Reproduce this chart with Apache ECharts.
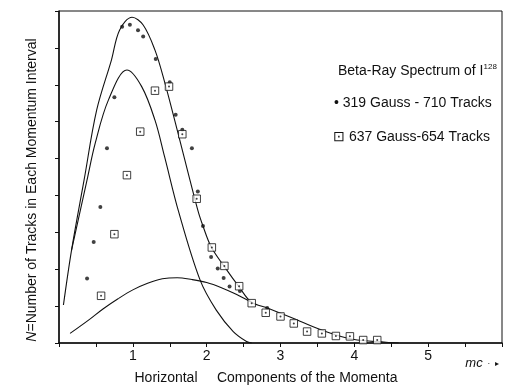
<!DOCTYPE html>
<html>
<head>
<meta charset="utf-8">
<script src="https://cdn.jsdelivr.net/npm/echarts@6/dist/echarts.min.js"></script>
<style>html,body{margin:0;padding:0;background:#fff}#c{width:505px;height:385px}</style>
</head>
<body>
<div id="c"></div>
<script>
// Data (x in mc units, y in arbitrary tick units)
var dots319 = [[0.38,1.75],[0.47,2.74],[0.56,3.69],[0.65,5.28],[0.75,6.66],[0.855,8.57],[0.96,8.63],[1.07,8.48],[1.14,8.31],[1.31,7.70],[1.50,7.07],[1.58,6.19],[1.67,5.78],[1.80,5.28],[1.88,4.11],[1.95,3.17],[2.06,2.33],[2.15,2.02],[2.23,1.76],[2.31,1.53],[2.45,1.41],[2.82,0.95]];
var squares637 = [[0.57,1.28],[0.75,2.95],[0.92,4.55],[1.10,5.73],[1.30,6.84],[1.49,6.95],[1.67,5.66],[1.865,3.91],[2.07,2.59],[2.24,2.09],[2.44,1.54],[2.61,1.08],[2.80,0.82],[3.00,0.72],[3.18,0.53],[3.36,0.31],[3.56,0.26],[3.75,0.19],[3.94,0.18],[4.12,0.08],[4.31,0.08]];
var totalCurve = [[0.06,1.03],[0.17,2.52],[0.34,4.42],[0.51,6.31],[0.71,7.67],[0.82,8.48],[0.99,8.83],[1.14,8.62],[1.30,7.94],[1.43,7.08],[1.59,5.86],[1.88,3.60],[1.95,3.17],[2.06,2.61],[2.24,2.07],[2.45,1.49],[2.60,1.12],[2.83,0.94],[3.17,0.67],[3.53,0.37],[3.98,0.10],[4.43,0.02],[4.6,0]];
var innerCurve = [[0.17,2.52],[0.38,4.42],[0.49,5.41],[0.67,6.59],[0.92,7.40],[1.12,6.95],[1.30,6.04],[1.43,5.05],[1.62,3.56],[1.91,1.71],[2.13,0.89],[2.36,0.31],[2.54,0.04],[2.61,0]];
var broadCurve = [[0.15,0.26],[0.40,0.62],[0.60,0.93],[0.80,1.20],[1.00,1.44],[1.20,1.62],[1.40,1.74],[1.60,1.77],[1.80,1.72],[2.00,1.64],[2.20,1.50],[2.40,1.32],[2.60,1.11]];
var xTickLabels = ['1','2','3','4','5'];

var FONT = 'Liberation Sans';
var chart = echarts.init(document.getElementById('c'));
var lineStyle = {color:'#111', width:1.1};
function curve(d){return {type:'line', data:d, smooth:0.35, showSymbol:false, symbol:'none', lineStyle:lineStyle, silent:true, z:2};}
chart.setOption({
  animation:false,
  backgroundColor:'#fff',
  grid:{left:59, right:3, top:11, bottom:42, show:true, borderColor:'#111', borderWidth:1},
  xAxis:{type:'value', min:0, max:6, interval:0.5,
    axisLine:{lineStyle:{color:'#111', width:1.5}},
    axisTick:{show:true, inside:false, length:4, lineStyle:{color:'#111'}},
    splitLine:{show:false},
    axisLabel:{margin:6, color:'#111', fontFamily:FONT, fontSize:14,
      formatter:function(v){var s=String(v); return xTickLabels.indexOf(s)>=0 ? s : '';}}
  },
  yAxis:{type:'value', min:0, max:9, interval:1,
    axisLine:{lineStyle:{color:'#111', width:1.5}},
    axisTick:{show:true, inside:false, length:4, lineStyle:{color:'#111'}},
    splitLine:{show:false},
    axisLabel:{show:false}
  },
  series:[
    curve(totalCurve), curve(innerCurve), curve(broadCurve),
    {type:'scatter', data:dots319, symbol:'circle', symbolSize:4, itemStyle:{color:'#111'}, z:3},
    {type:'scatter', data:squares637, symbol:'rect', symbolSize:7.5, itemStyle:{color:'#fff', borderColor:'#111', borderWidth:1}, z:3},
    {type:'scatter', data:squares637, symbol:'circle', symbolSize:2, itemStyle:{color:'#111'}, z:4, silent:true}
  ],
  graphic:[
    {type:'text', left:338, top:63, style:{text:'Beta-Ray Spectrum of I{s|128}', fontFamily:FONT, fontSize:14, fill:'#111',
      rich:{s:{fontSize:8, verticalAlign:'top', padding:[0,0,8,0], fontFamily:FONT, fill:'#111'}}}},
    {type:'text', left:334, top:96, style:{text:'\u2022 319 Gauss - 710 Tracks', fontFamily:FONT, fontSize:14, fill:'#111'}},
    {type:'text', left:333, top:130, style:{text:'\u22A1 637 Gauss-654 Tracks', fontFamily:FONT, fontSize:14, fill:'#111'}},
    {type:'text', x:32, y:190, rotation:Math.PI/2, style:{text:'{i|N}=Number of Tracks in Each Momentum Interval', fontFamily:FONT, fontSize:14, fill:'#111', align:'center', verticalAlign:'middle',
      rich:{i:{fontStyle:'italic', fontFamily:FONT, fontSize:14, fill:'#111'}}}},
    {type:'text', x:266, y:378, style:{text:'Horizontal     Components of the Momenta', fontFamily:FONT, fontSize:14, fill:'#111', align:'center', verticalAlign:'middle'}},
    {type:'text', x:474, y:363, style:{text:'mc', fontFamily:FONT, fontSize:13, fontStyle:'italic', fill:'#111', align:'center', verticalAlign:'middle'}},
    {type:'text', x:493, y:364, style:{text:'\u00B7  \u25B8', fontFamily:FONT, fontSize:8, fill:'#111', align:'center', verticalAlign:'middle'}}
  ]
});
</script>
</body>
</html>
